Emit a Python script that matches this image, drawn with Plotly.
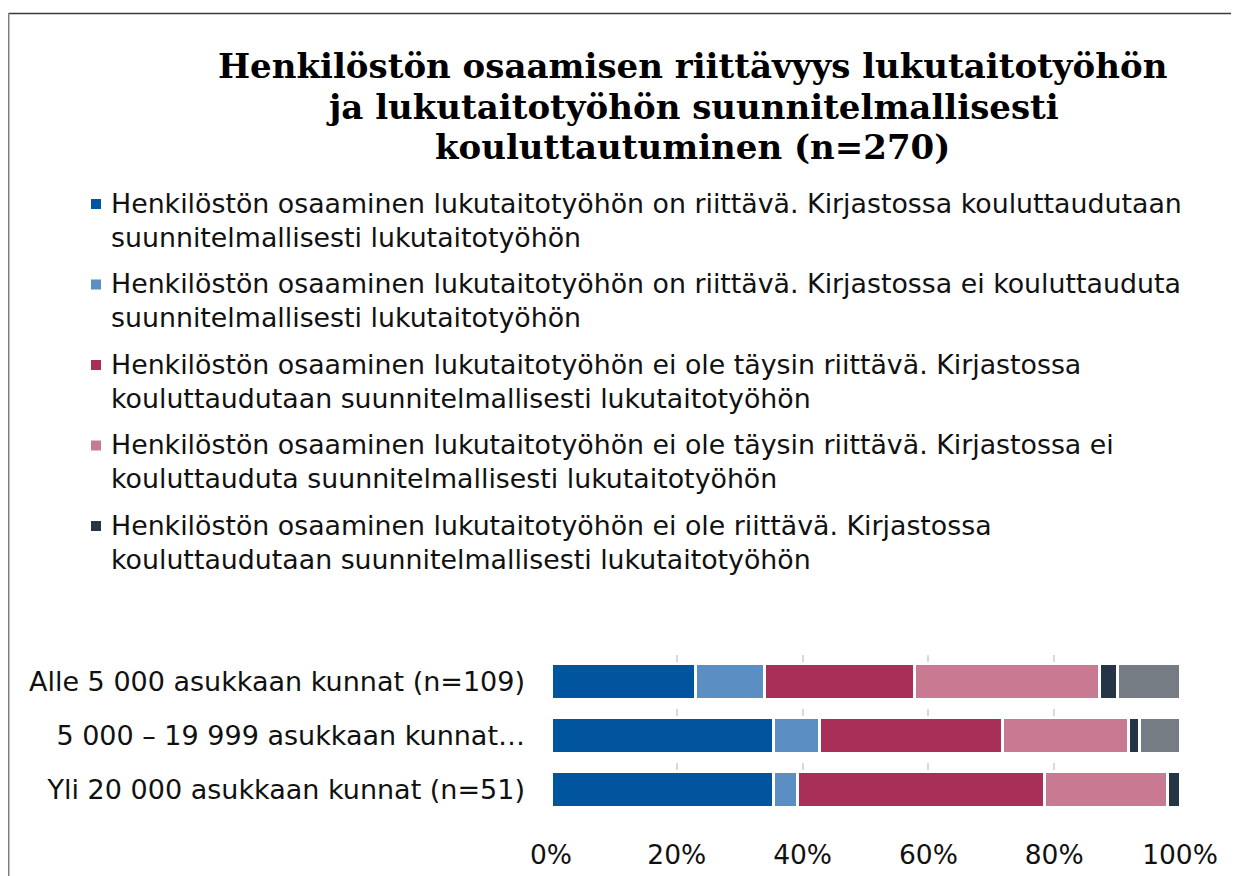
import plotly.graph_objects as go

# ---------------- data ----------------
categories = [
    "Alle 5 000 asukkaan kunnat (n=109)",
    "5 000 – 19 999 asukkaan kunnat…",
    "Yli 20 000 asukkaan kunnat (n=51)",
]
series_names = [
    "Henkilöstön osaaminen lukutaitotyöhön on riittävä. Kirjastossa kouluttaudutaan<br>suunnitelmallisesti lukutaitotyöhön",
    "Henkilöstön osaaminen lukutaitotyöhön on riittävä. Kirjastossa ei kouluttauduta<br>suunnitelmallisesti lukutaitotyöhön",
    "Henkilöstön osaaminen lukutaitotyöhön ei ole täysin riittävä. Kirjastossa<br>kouluttaudutaan suunnitelmallisesti lukutaitotyöhön",
    "Henkilöstön osaaminen lukutaitotyöhön ei ole täysin riittävä. Kirjastossa ei<br>kouluttauduta suunnitelmallisesti lukutaitotyöhön",
    "Henkilöstön osaaminen lukutaitotyöhön ei ole riittävä. Kirjastossa<br>kouluttaudutaan suunnitelmallisesti lukutaitotyöhön",
    "",
]
# percentages per series, one value per category
s1 = [22.9, 35.4, 35.3]
s2 = [11.0, 7.3, 3.9]
s3 = [23.9, 29.1, 39.2]
s4 = [29.4, 20.0, 19.6]
s5 = [2.8, 1.8, 2.0]
s6 = [10.0, 6.4, 0.0]
series_values = [s1, s2, s3, s4, s5, s6]
colors = ["#00569E", "#5B8FC4", "#A83058", "#C77A92", "#263545", "#757C84"]
show_in_legend = [True, True, True, True, True, False]

title_lines = [
    "Henkilöstön osaamisen riittävyys lukutaitotyöhön",
    "ja lukutaitotyöhön suunnitelmallisesti",
    "kouluttautuminen (n=270)",
]
x_tickvals = [0, 20, 40, 60, 80, 100]
x_ticktext = ["0%", "20%", "40%", "60%", "80%", "100%"]

# ---------------- layout geometry ----------------
OFF = 8  # page body margin in the browser
W, H = 1239 - OFF, 876 - OFF
ML = 551 - OFF
MT = 655 - OFF
MR = W - (1180 - OFF)
MB = H - (816 - OFF)
PW = W - ML - MR
PH = H - MT - MB


def px_x(px):
    return (px - OFF - ML) / PW


def px_y(py):
    return (H - MB - (py - OFF)) / PH


SANS = "DejaVu Sans, Verdana, sans-serif"
SERIF = "DejaVu Serif, Georgia, serif"
FS_LEG = 26.8
FS_TICK = 27

fig = go.Figure()
for name, vals, col in zip(series_names, series_values, colors):
    fig.add_trace(go.Bar(
        y=categories, x=vals, orientation="h", name=name.replace("<br>", " "),
        marker=dict(color=col, line=dict(color="white", width=3)),
        showlegend=False,
    ))

annotations = []
shapes = []

# title
title_centers = [66, 107, 147]
for line, yc in zip(title_lines, title_centers):
    annotations.append(dict(
        text=line, x=px_x(692), y=px_y(yc), xref="paper", yref="paper",
        xanchor="center", yanchor="middle", showarrow=False,
        font=dict(family=SERIF, size=34, color="#000000", weight="bold"),
    ))

# legend (manual)
legend_top = 203
legend_pitch = 80.5
line_gap = 34
for i, (name, col, show) in enumerate(zip(series_names, colors, show_in_legend)):
    if not show:
        continue
    y0 = legend_top + i * legend_pitch
    for j, part in enumerate(name.split("<br>")):
        annotations.append(dict(
            text=part, x=px_x(109), y=px_y(y0 + j * line_gap), xref="paper", yref="paper",
            xanchor="left", yanchor="middle", showarrow=False,
            font=dict(family=SANS, size=FS_LEG, color="#111111"),
        ))
    shapes.append(dict(
        type="rect", xref="paper", yref="paper",
        x0=px_x(91), x1=px_x(101), y0=px_y(y0 - 4), y1=px_y(y0 + 6),
        fillcolor=col, line=dict(width=0),
    ))

# outer frame (top and left lines)
shapes.append(dict(type="line", xref="paper", yref="paper",
                   x0=px_x(8.5), x1=px_x(1245), y0=px_y(13.5), y1=px_y(13.5),
                   line=dict(color="#3a3a3a", width=1.5)))
shapes.append(dict(type="line", xref="paper", yref="paper",
                   x0=px_x(8.5), x1=px_x(8.5), y0=px_y(13), y1=px_y(880),
                   line=dict(color="#808080", width=2)))

fig.update_layout(
    width=W, height=H,
    margin=dict(l=ML, r=MR, t=MT, b=MB, autoexpand=False),
    barmode="stack", bargap=0.33,
    plot_bgcolor="white", paper_bgcolor="white",
    annotations=annotations, shapes=shapes,
    showlegend=False,
    xaxis=dict(
        range=[0, 100], tickvals=x_tickvals, ticktext=x_ticktext,
        showgrid=True, gridcolor="#d9d9d9", gridwidth=2, griddash="dash",
        zeroline=False, showline=False, ticks="",
        tickfont=dict(family=SANS, size=FS_TICK - 0.5, color="#111111"),
        ticklabelstandoff=20,
    ),
    yaxis=dict(
        autorange="reversed", showgrid=False, zeroline=False, showline=False,
        ticks="", tickfont=dict(family=SANS, size=FS_TICK, color="#111111"),
        ticklabelstandoff=25,
    ),
)

fig.write_html("out.html")
